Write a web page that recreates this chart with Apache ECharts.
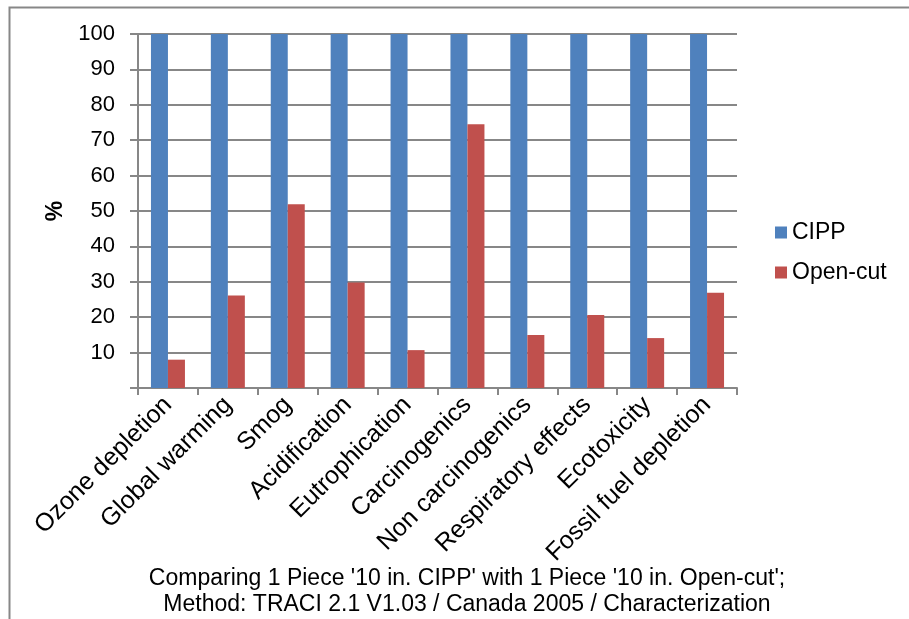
<!DOCTYPE html>
<html>
<head>
<meta charset="utf-8">
<script src="https://cdn.jsdelivr.net/npm/echarts@6/dist/echarts.min.js"></script>
<style>
  html, body { margin: 0; padding: 0; background: #ffffff; }
  #chart { width: 909px; height: 619px; }
</style>
</head>
<body>
<div id="chart"></div>
<script>
// Impact categories (TRACI 2.1) and relative scores in %
const categories = [
  'Ozone depletion', 'Global warming', 'Smog', 'Acidification', 'Eutrophication',
  'Carcinogenics', 'Non carcinogenics', 'Respiratory effects', 'Ecotoxicity', 'Fossil fuel depletion'
];
const cippValues = [100, 100, 100, 100, 100, 100, 100, 100, 100, 100];
const openCutValues = [8.0, 26.1, 51.9, 29.8, 10.7, 74.5, 15.0, 20.6, 14.1, 26.9];
const yTicks = [10, 20, 30, 40, 50, 60, 70, 80, 90, 100];
const captionLines = [
  "Comparing 1 Piece '10 in. CIPP' with 1 Piece '10 in. Open-cut';",
  'Method: TRACI 2.1 V1.03 / Canada 2005 / Characterization'
];

const FONT = '"Liberation Sans", Arial, sans-serif';
const FS = 23;
const GRID_GRAY = '#878787';

const chart = echarts.init(document.getElementById('chart'), null, { renderer: 'canvas' });

chart.setOption({
  backgroundColor: '#ffffff',
  animation: false,
  textStyle: { fontFamily: FONT, color: '#000000' },
  grid: { left: 138, right: 172, top: 34, bottom: 231, containLabel: false },
  legend: {
    orient: 'vertical',
    left: 775,
    top: 221,
    padding: 0,
    itemWidth: 12,
    itemHeight: 12,
    itemGap: 17,
    icon: 'rect',
    textStyle: { fontFamily: FONT, fontSize: FS, color: '#000000' },
    data: ['CIPP', 'Open-cut']
  },
  xAxis: {
    type: 'category',
    data: categories,
    axisLine: { show: true, lineStyle: { color: GRID_GRAY, width: 2 } },
    axisTick: { show: true, length: 7, lineStyle: { color: GRID_GRAY, width: 2 } },
    axisLabel: {
      interval: 0,
      rotate: 45,
      margin: 13,
      fontFamily: FONT,
      fontSize: 25,
      color: '#000000'
    }
  },
  yAxis: {
    type: 'value',
    min: 0,
    max: 100,
    interval: 10,
    name: '%',
    nameLocation: 'middle',
    nameRotate: 90,
    nameGap: 69,
    nameTextStyle: { fontFamily: FONT, fontSize: FS, fontWeight: 'bold', color: '#000000' },
    axisLine: { show: true, lineStyle: { color: GRID_GRAY, width: 2 } },
    axisTick: { show: true, length: 8, lineStyle: { color: GRID_GRAY, width: 2 } },
    splitLine: { show: true, lineStyle: { color: GRID_GRAY, width: 2 } },
    axisLabel: {
      margin: 23,
      fontFamily: FONT,
      fontSize: 22,
      color: '#000000',
      formatter: function (v) { return yTicks.indexOf(v) >= 0 ? String(v) : ''; }
    }
  },
  series: [
    {
      name: 'CIPP',
      type: 'bar',
      data: cippValues,
      barWidth: 17,
      barGap: '0%',
      itemStyle: { color: '#4F81BD' }
    },
    {
      name: 'Open-cut',
      type: 'bar',
      data: openCutValues,
      barWidth: 17,
      barGap: '0%',
      itemStyle: { color: '#C0504D' }
    }
  ],
  graphic: [
    {
      type: 'rect',
      left: 7,
      top: 5,
      shape: { width: 1000, height: 1000 },
      style: { fill: 'none', stroke: GRID_GRAY, lineWidth: 2 },
      silent: true
    },
    {
      type: 'text',
      x: 467,
      y: 566,
      style: {
        text: captionLines.join('\n'),
        fontFamily: FONT,
        fontSize: FS,
        lineHeight: 26,
        fill: '#000000',
        align: 'center'
      }
    }
  ]
});
</script>
</body>
</html>
